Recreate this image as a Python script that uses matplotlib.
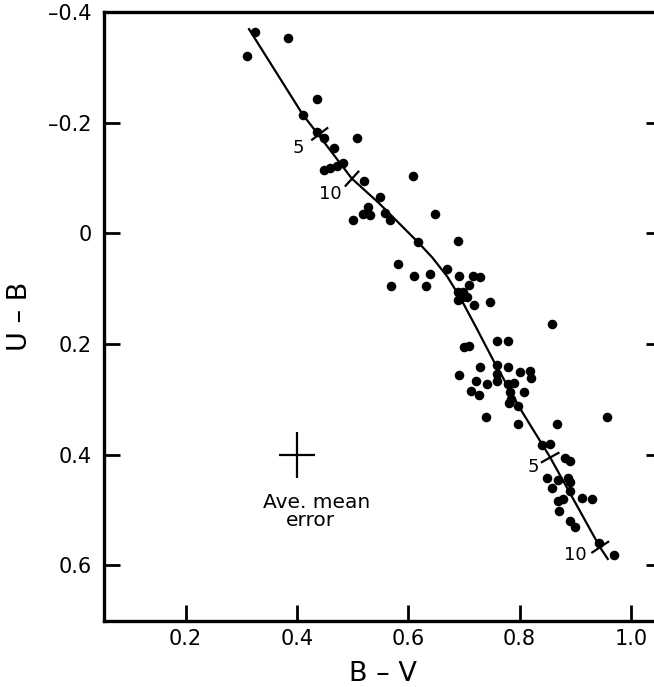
import numpy as np
import matplotlib
matplotlib.use("Agg")
import matplotlib.pyplot as plt

plt.rcParams['font.family'] = ['DejaVu Sans']
plt.rcParams['axes.unicode_minus'] = False

# ---- data (B-V, U-B) of the plotted stars ----
bv = [0.310, 0.325, 0.384, 0.437, 0.411, 0.437, 0.449, 0.508, 0.467, 0.483,
      0.472, 0.460, 0.449, 0.521, 0.549, 0.609, 0.527, 0.519, 0.531, 0.501,
      0.558, 0.567, 0.648, 0.617, 0.689, 0.581, 0.669, 0.611, 0.639, 0.692,
      0.716, 0.729, 0.569, 0.632, 0.710, 0.690, 0.699, 0.696, 0.690, 0.705,
      0.718, 0.747, 0.859, 0.700, 0.710, 0.760, 0.780, 0.759, 0.729, 0.691,
      0.780, 0.801, 0.819, 0.820, 0.759, 0.759, 0.722, 0.741, 0.780, 0.790,
      0.712, 0.728, 0.808, 0.783, 0.785, 0.781, 0.798, 0.740, 0.798, 0.868,
      0.957, 0.841, 0.854, 0.881, 0.891, 0.850, 0.870, 0.887, 0.891, 0.859,
      0.891, 0.879, 0.870, 0.912, 0.930, 0.871, 0.891, 0.900, 0.942, 0.970]
ub = [-0.321, -0.364, -0.353, -0.243, -0.215, -0.184, -0.173, -0.172, -0.154, -0.128,
      -0.122, -0.119, -0.114, -0.095, -0.066, -0.104, -0.047, -0.036, -0.033, -0.025,
      -0.037, -0.024, -0.036, 0.015, 0.013, 0.056, 0.065, 0.077, 0.074, 0.077,
      0.077, 0.078, 0.095, 0.095, 0.094, 0.106, 0.106, 0.115, 0.121, 0.115,
      0.129, 0.123, 0.163, 0.205, 0.204, 0.194, 0.195, 0.237, 0.242, 0.255,
      0.242, 0.251, 0.249, 0.261, 0.254, 0.267, 0.266, 0.272, 0.273, 0.271,
      0.284, 0.292, 0.287, 0.287, 0.300, 0.307, 0.312, 0.332, 0.344, 0.344,
      0.332, 0.383, 0.381, 0.406, 0.412, 0.442, 0.445, 0.442, 0.450, 0.461,
      0.465, 0.480, 0.484, 0.479, 0.480, 0.501, 0.519, 0.531, 0.560, 0.581]

# ---- fitted sequence curve ----
curve_bv = [0.313, 0.4105, 0.4416, 0.4986, 0.5476, 0.6172, 0.6429, 0.6699,
            0.6932, 0.7232, 0.753, 0.801, 0.8549, 0.9447, 0.9597]
curve_ub = [-0.371, -0.215, -0.1747, -0.0994, -0.0547, 0.0154, 0.0430, 0.0774,
            0.1154, 0.172, 0.2295, 0.3164, 0.4045, 0.5674, 0.590]

# ---- marks on the curve and their labels ----
mark_bv = [0.441, 0.499, 0.855, 0.945]
mark_ub = [-0.180, -0.099, 0.405, 0.567]
mark_text = ["5", "10", "5", "10"]
mark_text_bv = [0.403, 0.460, 0.824, 0.901]
mark_text_ub = [-0.154, -0.071, 0.423, 0.581]

# ---- average mean error cross ----
err_bv, err_ub = 0.40, 0.40
err_dx, err_dy = 0.033, 0.042

xticks = [0.2, 0.4, 0.6, 0.8, 1.0]
xticklabels = ["0.2", "0.4", "0.6", "0.8", "1.0"]
yticks = [-0.4, -0.2, 0.0, 0.2, 0.4, 0.6]
yticklabels = ["–0.4", "–0.2", "0", "0.2", "0.4", "0.6"]

W, H = 654, 687
fig = plt.figure(figsize=(W / 100, H / 100), dpi=100)
ax = fig.add_axes([104.3 / W, 66.3 / H, 557.7 / W, 608.5 / H])
ax.set_xlim(0.054, 1.056)
ax.set_ylim(0.70, -0.40)

for s in ax.spines.values():
    s.set_linewidth(2.4)

ax.set_xticks(xticks)
ax.set_xticklabels(xticklabels)
ax.set_yticks(yticks)
ax.set_yticklabels(yticklabels)
ax.tick_params(axis='both', direction='in', length=11.5, width=2.0,
               labelsize=15, colors='black')
ax.tick_params(axis='y', left=True, right=True, labelright=False, pad=9)
ax.tick_params(axis='x', bottom=True, top=False, pad=6)

ax.plot(curve_bv, curve_ub, color='black', lw=1.6, solid_capstyle='butt',
        solid_joinstyle='round')
ax.plot(bv, ub, 'o', color='black', markersize=6.9, markeredgewidth=0)

# perpendicular marks on the curve
disp = ax.transData.transform(np.column_stack([curve_bv, curve_ub]))
for mb, mu in zip(mark_bv, mark_ub):
    p = ax.transData.transform((mb, mu))
    d = np.linalg.norm(disp - p, axis=1)
    i = int(np.argmin(d))
    j = i + 1 if i + 1 < len(disp) else i - 1
    t = disp[j] - disp[i]
    t = t / np.linalg.norm(t)
    n = np.array([-t[1], t[0]])
    ends = np.array([p - n * 9.5, p + n * 9.5])
    ends_d = ax.transData.inverted().transform(ends)
    ax.plot(ends_d[:, 0], ends_d[:, 1], color='black', lw=1.6)

for tx, ty, s in zip(mark_text_bv, mark_text_ub, mark_text):
    ax.text(tx, ty, s, ha='center', va='center', fontsize=13)

ax.errorbar(err_bv, err_ub, xerr=err_dx, yerr=err_dy, fmt='none',
            ecolor='black', elinewidth=1.6, capsize=0)
ax.text(0.436, 0.496, "Ave. mean", ha='center', va='baseline', fontsize=14.5)
ax.text(0.4236, 0.528, "error", ha='center', va='baseline', fontsize=14.5)

ax.set_xlabel("B – V", fontsize=19.5)
ax.xaxis.set_label_coords(0.5, -0.0995)
ax.xaxis.label.set_va('baseline')
ax.set_ylabel("U – B", fontsize=19.5)
ax.yaxis.set_label_coords(-0.1512, 0.5)
ax.yaxis.label.set_va('center')

fig.savefig("out.png", dpi=100)
